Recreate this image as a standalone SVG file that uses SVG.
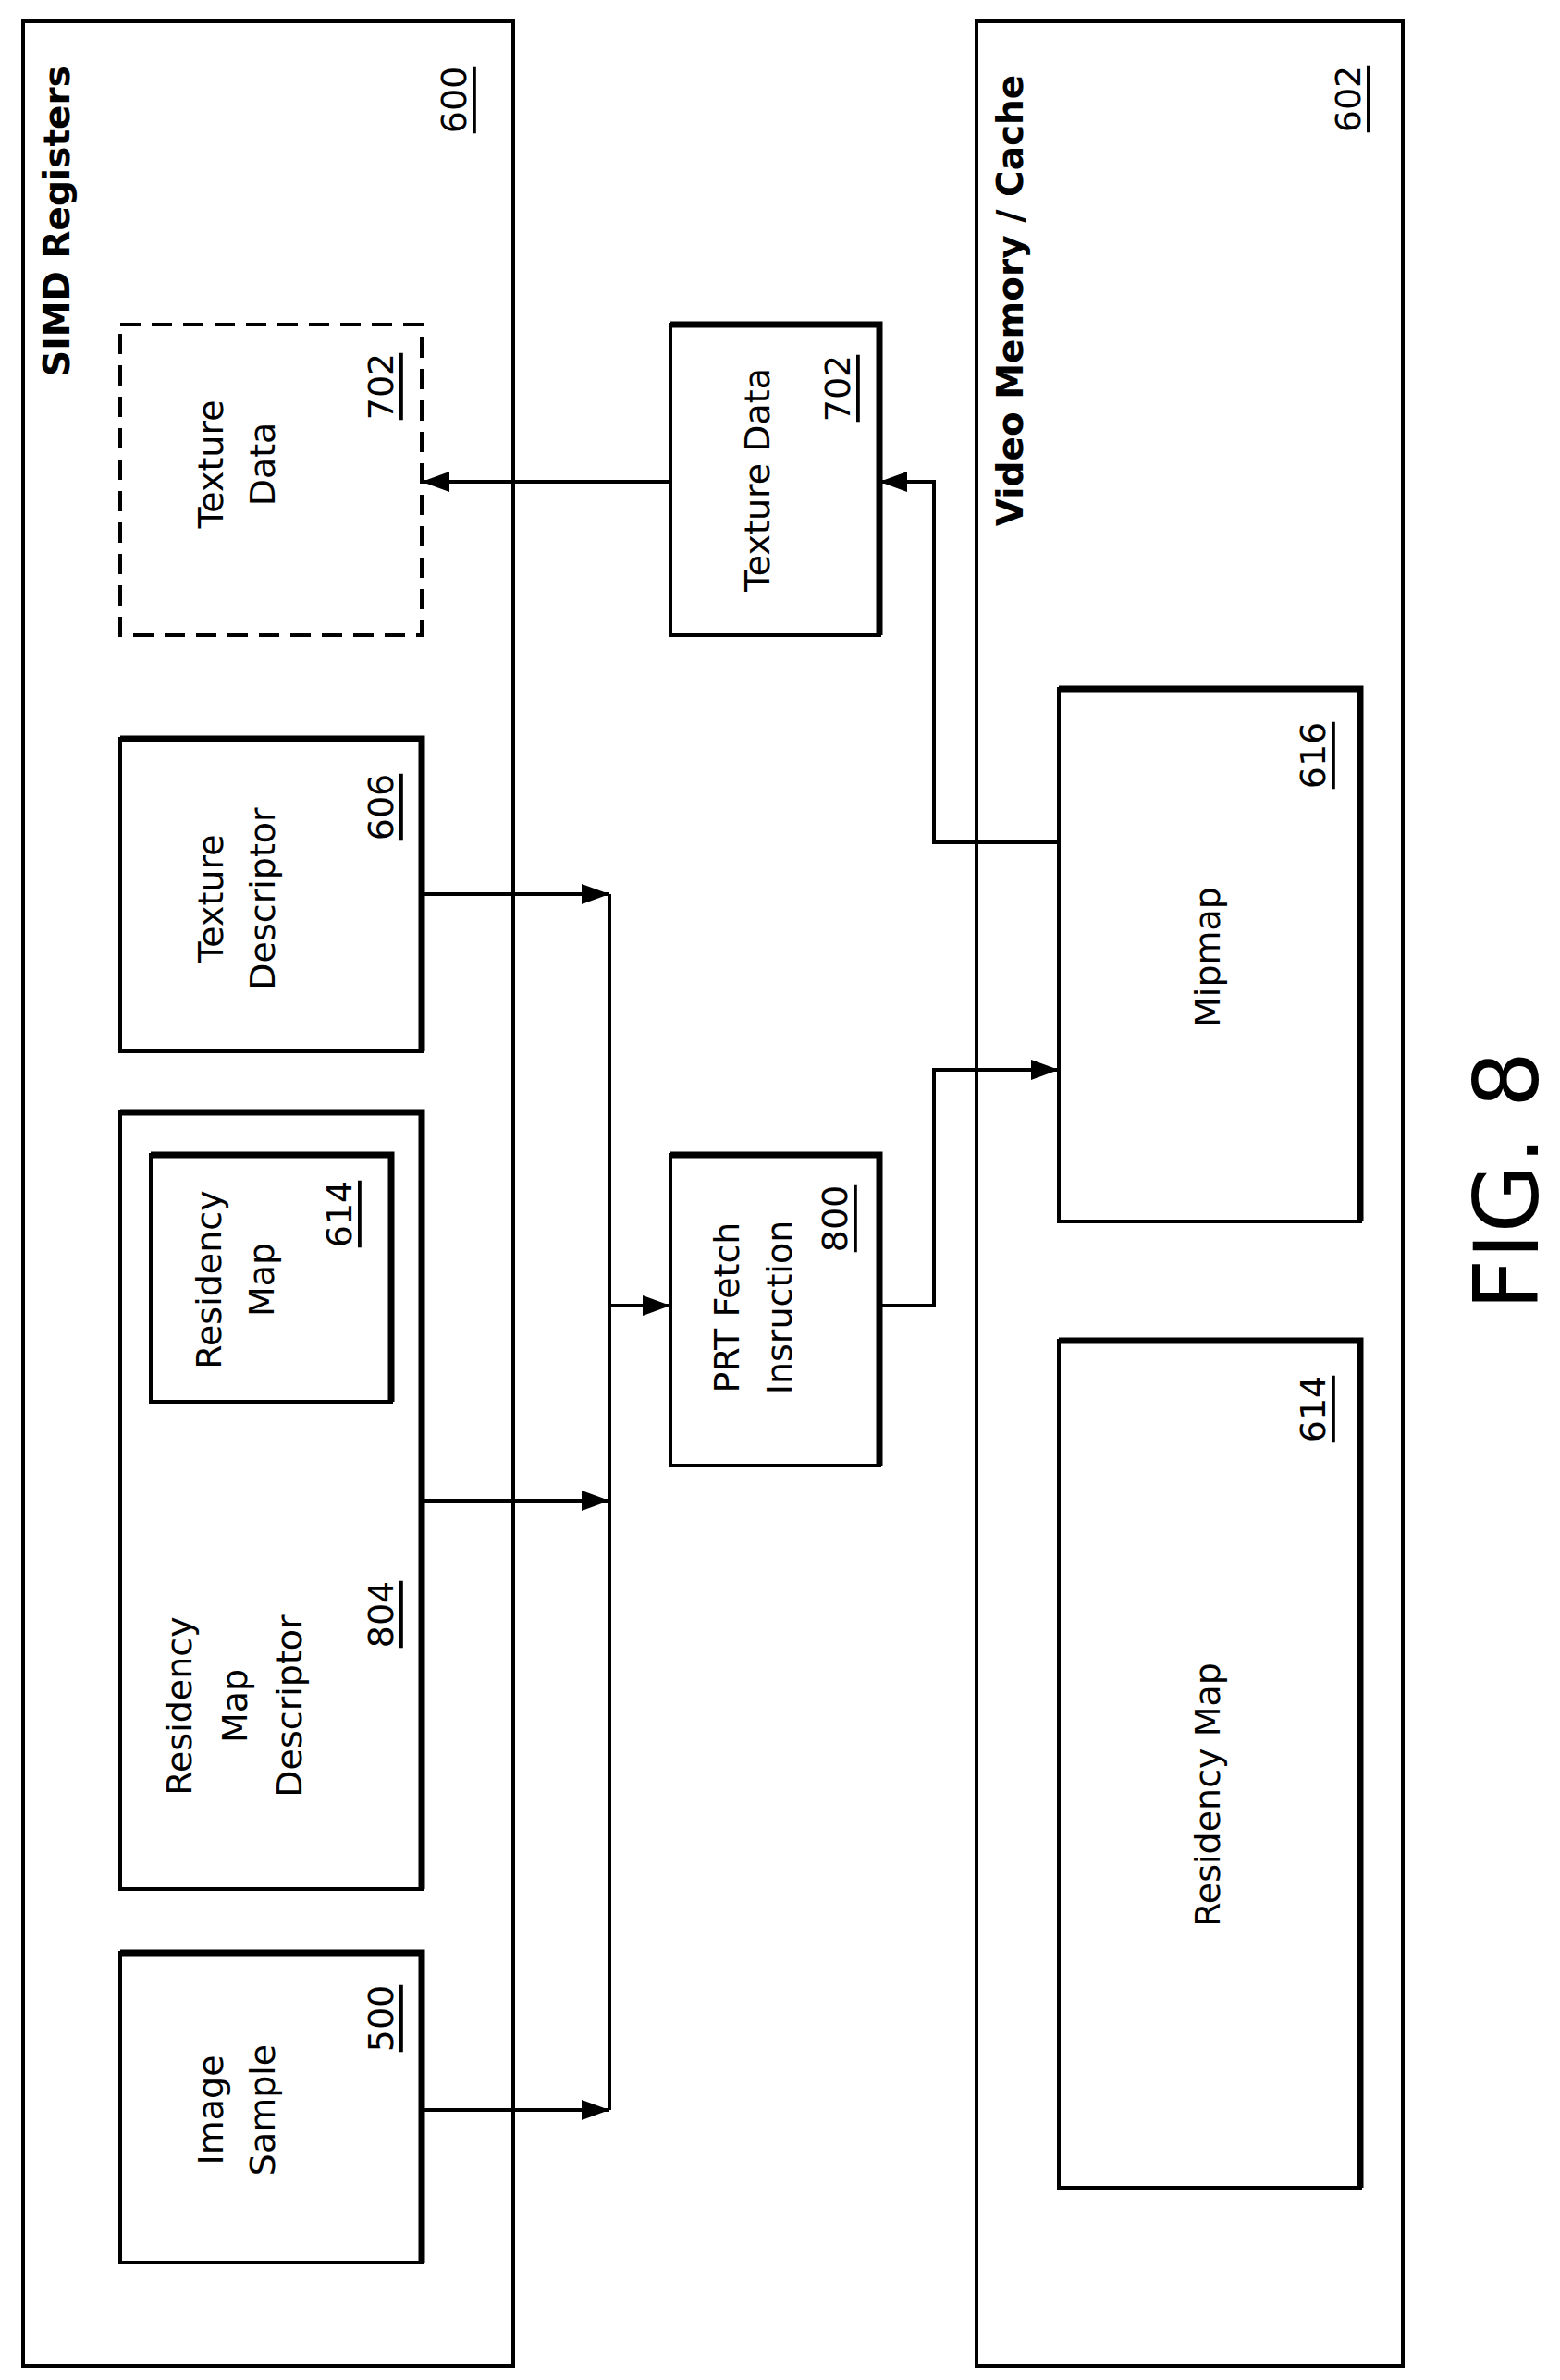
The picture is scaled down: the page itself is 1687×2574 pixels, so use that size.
<svg xmlns="http://www.w3.org/2000/svg" width="1687" height="2574" viewBox="0 0 1687 2574">
<style>
.b{fill:none;stroke:#000;stroke-width:4}
.h{stroke:#000;stroke-width:7;fill:none}
.t{font-family:"DejaVu Sans",sans-serif;font-size:38px;text-anchor:middle;dominant-baseline:central}
.n{text-decoration:underline}
.bold{font-weight:bold;font-size:39px}
.c{fill:none;stroke:#000;stroke-width:4}
</style>
<defs>
<marker id="ar" markerWidth="30" markerHeight="22" refX="30" refY="11" orient="auto" markerUnits="userSpaceOnUse"><path d="M0,0L30,11L0,22z"/></marker></defs>
<g id="simd"><rect class="b" x="25" y="23" width="530" height="2536" stroke-width="6"/>
<text class="t bold" transform="translate(61,239) rotate(-90)">SIMD Registers</text>
<text class="t n" transform="translate(491,108) rotate(-90)">600</text></g>
<g id="video"><rect class="b" x="1056" y="23" width="461" height="2536" stroke-width="6"/>
<text class="t bold" transform="translate(1092,325) rotate(-90)">Video Memory / Cache</text>
<text class="t n" transform="translate(1458,107) rotate(-90)">602</text></g>
<g id="texdata-reg"><rect class="b" x="130" y="351" width="326" height="336" stroke-dasharray="22,12" stroke-width="3"/>
<text class="t" transform="translate(228,502) rotate(-90)">Texture</text>
<text class="t" transform="translate(284,502) rotate(-90)">Data</text>
<text class="t n" transform="translate(412,418) rotate(-90)">702</text></g>
<g id="texdesc"><rect class="b" x="130" y="799" width="326" height="338"/><path class="h" d="M130,799H456V1137"/>
<text class="t" transform="translate(228,972) rotate(-90)">Texture</text>
<text class="t" transform="translate(284,972) rotate(-90)">Descriptor</text>
<text class="t n" transform="translate(412,873) rotate(-90)">606</text></g>
<g id="resdesc"><rect class="b" x="130" y="1203" width="326" height="840"/><path class="h" d="M130,1203H456V2043"/>
<text class="t" transform="translate(194,1845) rotate(-90)">Residency</text>
<text class="t" transform="translate(254,1845) rotate(-90)">Map</text>
<text class="t" transform="translate(313,1845) rotate(-90)">Descriptor</text>
<text class="t n" transform="translate(412,1746) rotate(-90)">804</text></g>
<g id="resmap-inner"><rect class="b" x="163" y="1249" width="260" height="267"/><path class="h" d="M163,1249H423V1516"/>
<text class="t" transform="translate(226,1384) rotate(-90)">Residency</text>
<text class="t" transform="translate(283,1384) rotate(-90)">Map</text>
<text class="t n" transform="translate(367,1313) rotate(-90)">614</text></g>
<g id="imgsample"><rect class="b" x="130" y="2112" width="326" height="335"/><path class="h" d="M130,2112H456V2447"/>
<text class="t" transform="translate(228,2282) rotate(-90)">Image</text>
<text class="t" transform="translate(284,2282) rotate(-90)">Sample</text>
<text class="t n" transform="translate(412,2183) rotate(-90)">500</text></g>
<g id="texdata"><rect class="b" x="725" y="351" width="226" height="336"/><path class="h" d="M725,351H951V687"/>
<text class="t" transform="translate(819,519) rotate(-90)">Texture Data</text>
<text class="t n" transform="translate(906,420) rotate(-90)">702</text></g>
<g id="prt"><rect class="b" x="725" y="1249" width="226" height="336"/><path class="h" d="M725,1249H951V1585"/>
<text class="t" transform="translate(786,1414) rotate(-90)">PRT Fetch</text>
<text class="t" transform="translate(843,1414) rotate(-90)">Insruction</text>
<text class="t n" transform="translate(903,1318) rotate(-90)">800</text></g>
<g id="mipmap"><rect class="b" x="1145" y="745" width="326" height="576"/><path class="h" d="M1145,745H1471V1321"/>
<text class="t" transform="translate(1306,1035) rotate(-90)">Mipmap</text>
<text class="t n" transform="translate(1420,817) rotate(-90)">616</text></g>
<g id="resmap"><rect class="b" x="1145" y="1450" width="326" height="916"/><path class="h" d="M1145,1450H1471V2366"/>
<text class="t" transform="translate(1306,1941) rotate(-90)">Residency Map</text>
<text class="t n" transform="translate(1420,1524) rotate(-90)">614</text></g>
<g id="connectors">
<path class="c" d="M659,967V2282"/>
<path class="c" d="M456,967H659" marker-end="url(#ar)"/>
<path class="c" d="M456,1623H659" marker-end="url(#ar)"/>
<path class="c" d="M456,2282H659" marker-end="url(#ar)"/>
<path class="c" d="M659,1412H725" marker-end="url(#ar)"/>
<path class="c" d="M951,1412H1010V1157H1145" marker-end="url(#ar)"/>
<path class="c" d="M1145,911H1010V521H951" marker-end="url(#ar)"/>
<path class="c" d="M725,521H456" marker-end="url(#ar)"/>
</g>
<text class="t" style="font-size:96px" transform="translate(1630,1277) rotate(-90)">FIG. 8</text>
</svg>
